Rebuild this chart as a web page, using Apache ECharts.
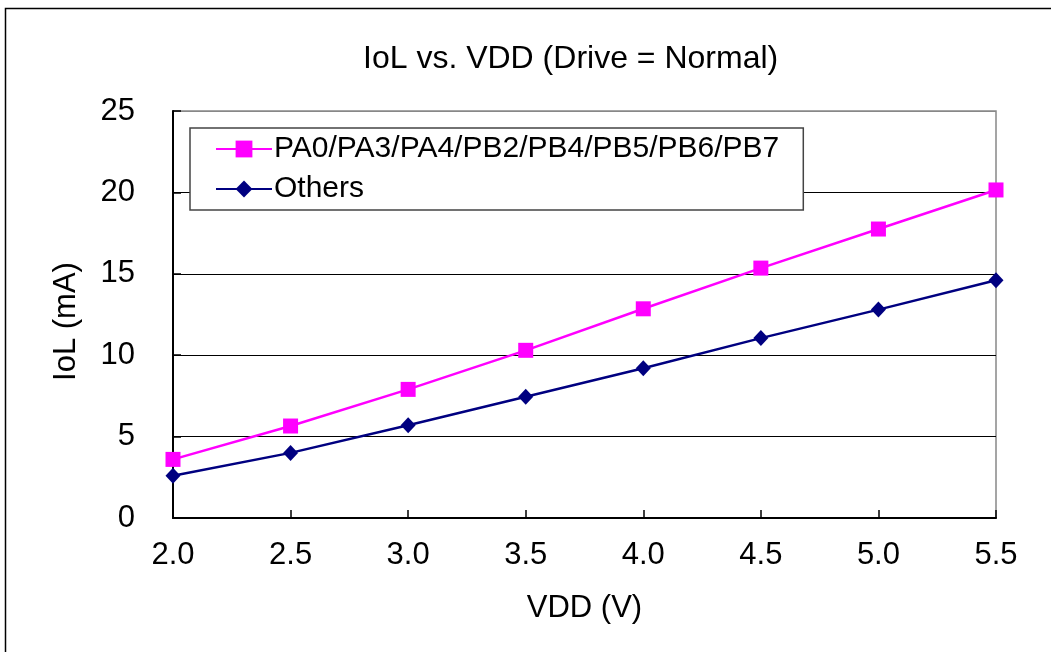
<!DOCTYPE html>
<html><head><meta charset="utf-8">
<script src="https://cdn.jsdelivr.net/npm/echarts@6/dist/echarts.min.js"></script>
<style>html,body{margin:0;padding:0;background:#fff}#c{width:1051px;height:652px}</style>
</head><body><div id="c"></div>
<script>
const vdd = [2.0, 2.5, 3.0, 3.5, 4.0, 4.5, 5.0, 5.5];
const paSeries = [3.6, 5.65, 7.9, 10.3, 12.85, 15.35, 17.75, 20.15];
const othersSeries = [2.6, 4.0, 5.7, 7.45, 9.2, 11.05, 12.8, 14.6];
const seriesNames = ['PA0/PA3/PA4/PB2/PB4/PB5/PB6/PB7', 'Others'];
const titleText = 'IoL vs. VDD (Drive = Normal)';
const xName = 'VDD (V)';
const yName = 'IoL (mA)';

const font = 'Liberation Sans, Arial, sans-serif';
const chart = echarts.init(document.getElementById('c'), null, {renderer: 'canvas'});
chart.setOption({
  animation: false,
  backgroundColor: '#fff',
  graphic: [{type: 'rect', shape: {x: 5.5, y: 8.5, width: 1100, height: 700}, style: {fill: 'none', stroke: '#000', lineWidth: 1.5}, silent: true, z: -1}],
  title: {text: titleText, left: 358, top: 38, textStyle: {fontFamily: font, fontSize: 32, fontWeight: 'normal', color: '#000'}},
  grid: {left: 173, right: 55, top: 111, bottom: 134, show: true, borderColor: '#888', borderWidth: 1.5, backgroundColor: '#fff'},
  legend: {
    orient: 'vertical', left: 190, top: 128,
    backgroundColor: '#fff', borderColor: '#444', borderWidth: 1.5,
    padding: [6, 24, 6, 25], itemGap: 10, itemWidth: 56, itemHeight: 21,
    textStyle: {fontFamily: font, fontSize: 30, color: '#000', padding: [0, 0, 0, -3]},
    data: seriesNames
  },
  xAxis: {
    type: 'value', min: 2, max: 5.5, interval: 0.5,
    name: xName, nameLocation: 'middle', nameGap: 75,
    nameTextStyle: {fontFamily: font, fontSize: 31, color: '#000'},
    axisLine: {show: true, lineStyle: {color: '#000', width: 2}},
    axisTick: {show: true, inside: true, length: 8, lineStyle: {color: '#000', width: 1.5}},
    axisLabel: {fontFamily: font, fontSize: 31, color: '#000', margin: 22, formatter: v => v.toFixed(1)},
    splitLine: {show: false}
  },
  yAxis: {
    type: 'value', min: 0, max: 25, interval: 5,
    name: yName, nameLocation: 'middle', nameGap: 91,
    nameTextStyle: {fontFamily: font, fontSize: 31, color: '#000', padding: [0, 14, 0, 0]},
    axisLine: {show: true, lineStyle: {color: '#000', width: 2}},
    axisTick: {show: true, inside: true, length: 8, lineStyle: {color: '#000', width: 1.5}},
    axisLabel: {fontFamily: font, fontSize: 31, color: '#000', margin: 38},
    splitLine: {show: true, lineStyle: {color: ['#000', '#000', '#000', '#000', '#000', '#888'], width: 1.2}}
  },
  series: [
    {name: seriesNames[0], type: 'line', data: vdd.map((x, i) => [x, paSeries[i]]),
     symbol: 'rect', symbolSize: 15, lineStyle: {color: '#FF00FF', width: 2.5}, itemStyle: {color: '#FF00FF'}, z: 3},
    {name: seriesNames[1], type: 'line', data: vdd.map((x, i) => [x, othersSeries[i]]),
     symbol: 'diamond', symbolSize: [15, 16], lineStyle: {color: '#000080', width: 2.5}, itemStyle: {color: '#000080'}, z: 4}
  ]
});
</script></body></html>
